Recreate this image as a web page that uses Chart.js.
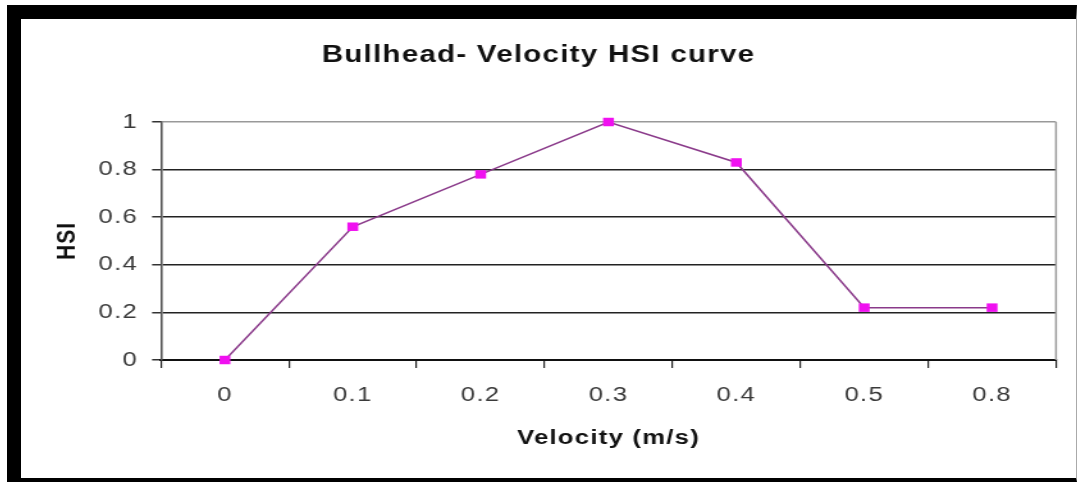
<!DOCTYPE html>
<html>
<head>
<meta charset="utf-8">
<script src="https://cdn.jsdelivr.net/npm/chart.js@4"></script>
<style>
  html, body { margin: 0; padding: 0; background: #fff; width: 1077px; height: 482px; overflow: hidden; }
  #frame {
    position: absolute; left: 7px; top: 5px;
    width: 1055px; height: 459px;
    border-left: 14px solid #000; border-top: 14px solid #000;
    border-bottom: 4px solid #000; border-right: 1px solid #aaa;
    background: #fff; overflow: hidden;
  }
  #stretch {
    width: 824px; height: 459px;
    transform: scaleX(1.2803); transform-origin: 0 0;
  }
  #c { display: block; }
</style>
</head>
<body>
<div id="frame"><div id="stretch"><canvas id="c" width="824" height="459"></canvas></div></div>
<script>
// ---- data ----
const velocityLabels = ['0', '0.1', '0.2', '0.3', '0.4', '0.5', '0.8'];
const hsiValues = [0, 0.56, 0.78, 1, 0.83, 0.22, 0.22];
const yTickLabels = ['0', '0.2', '0.4', '0.6', '0.8', '1'];
const chartTitle = 'Bullhead- Velocity HSI curve';
const xTitle = 'Velocity (m/s)';
const yTitle = 'HSI';

const FONT = 'Liberation Sans, Arial, sans-serif';

const spacingPlugin = {
  id: 'spacing',
  beforeLayout(chart) { chart.ctx.letterSpacing = '1px'; },
  beforeDraw(chart) { chart.ctx.letterSpacing = '1px'; }
};
const rightBorder = {
  id: 'rightBorder',
  afterDraw(chart) {
    const a = chart.chartArea, ctx = chart.ctx;
    ctx.save();
    ctx.strokeStyle = '#9a9a9a';
    ctx.lineWidth = 1.5;
    ctx.beginPath();
    ctx.moveTo(a.right, a.top);
    ctx.lineTo(a.right, a.bottom);
    ctx.stroke();
    ctx.restore();
  }
};

new Chart(document.getElementById('c'), {
  type: 'line',
  data: {
    labels: velocityLabels,
    datasets: [{
      data: hsiValues,
      clip: false,
      borderColor: '#8a3a8a',
      borderWidth: 1.5,
      pointStyle: 'rect',
      pointRadius: 6,
      pointHoverRadius: 6,
      pointBackgroundColor: '#f010f0',
      pointBorderColor: '#f010f0',
      pointBorderWidth: 0,
      tension: 0,
      fill: false
    }]
  },
  options: {
    responsive: false,
    animation: false,
    devicePixelRatio: 1,
    layout: { padding: { left: 0, right: 15.6, top: 0, bottom: 0 } },
    plugins: {
      legend: { display: false },
      tooltip: { enabled: false },
      title: {
        display: true,
        text: chartTitle,
        color: '#111',
        font: { family: FONT, size: 23, weight: 'bold', lineHeight: 1.2 },
        padding: { top: 23, bottom: 52.4 }
      }
    },
    scales: {
      x: {
        type: 'category',
        offset: true,
        afterFit(scale) { scale.height = 118; },
        grid: {
          offset: true,
          drawOnChartArea: false,
          drawTicks: true,
          tickLength: 8,
          color: '#222',
          lineWidth: 1.2
        },
        border: { display: true, color: '#111', width: 2 },
        ticks: {
          color: '#3a3a3a',
          padding: 15,
          maxRotation: 0,
          font: { family: FONT, size: 20 }
        },
        title: {
          display: true,
          text: xTitle,
          color: '#111',
          font: { family: FONT, size: 20, weight: 'bold', lineHeight: 1.2 },
          padding: { top: 0, bottom: 28 }
        }
      },
      y: {
        min: 0,
        max: 1,
        afterFit(scale) { scale.width = 109.35; },
        ticks: {
          stepSize: 0.2,
          color: '#3a3a3a',
          padding: 11,
          font: { family: FONT, size: 20 },
          callback: (v, i) => yTickLabels[i]
        },
        grid: {
          color: (ctx) => (ctx.tick && ctx.tick.value === 1) ? '#999' : '#222',
          lineWidth: 1.5,
          tickLength: 7,
          tickColor: '#333'
        },
        border: { display: true, color: '#555', width: 1.6 },
        title: {
          display: true,
          text: yTitle,
          color: '#111',
          font: { family: FONT, size: 21, weight: 'bold', lineHeight: 1.2 },
          padding: { top: 23.3, bottom: 0 }
        }
      }
    }
  },
  plugins: [spacingPlugin, rightBorder]
});
</script>
</body>
</html>
